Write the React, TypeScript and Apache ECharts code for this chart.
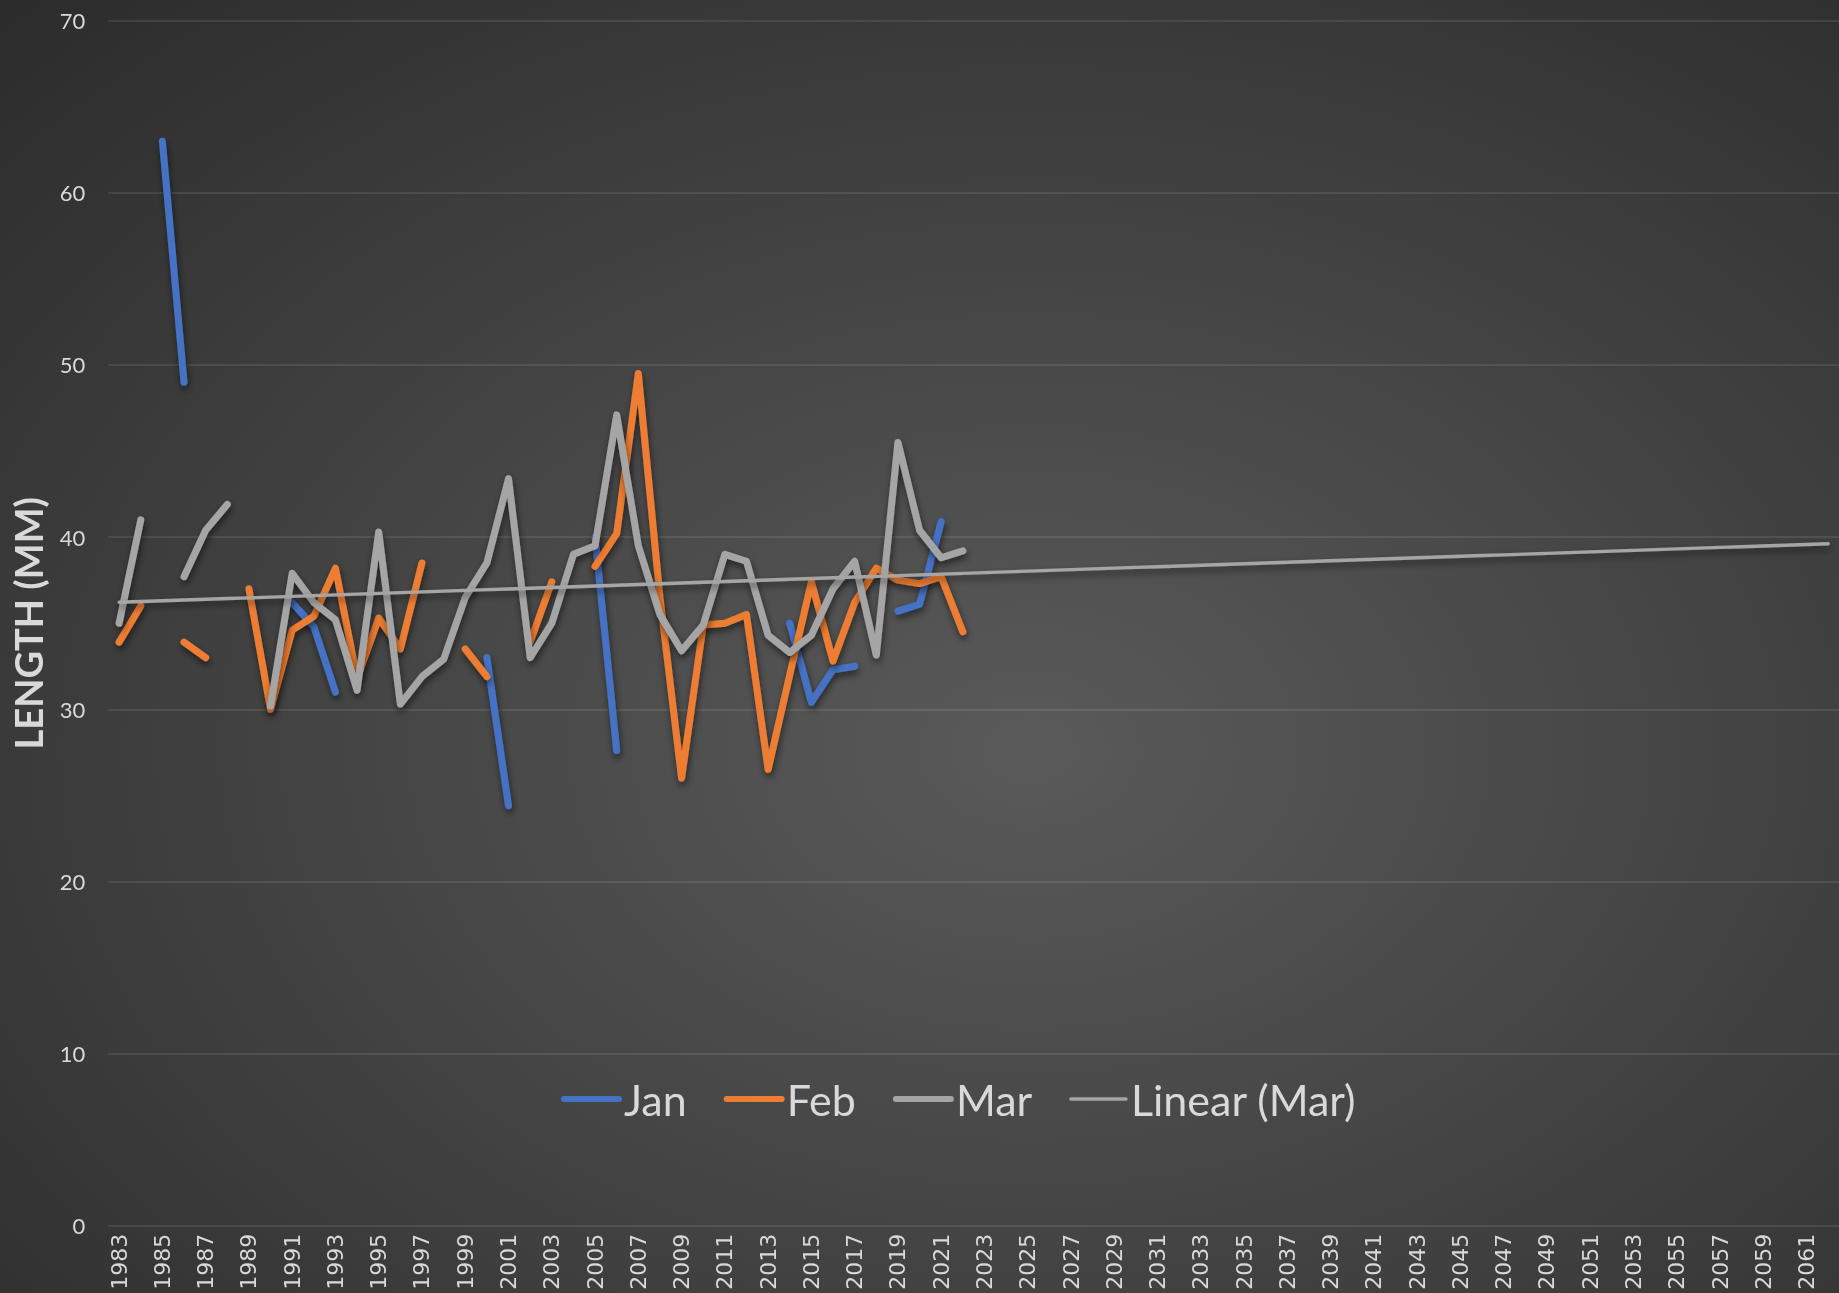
import React, { useEffect, useRef } from 'react';
import * as echarts from 'echarts';

const years = [
  '1983', '1984', '1985', '1986', '1987', '1988', '1989', '1990', '1991', '1992',
  '1993', '1994', '1995', '1996', '1997', '1998', '1999', '2000', '2001', '2002',
  '2003', '2004', '2005', '2006', '2007', '2008', '2009', '2010', '2011', '2012',
  '2013', '2014', '2015', '2016', '2017', '2018', '2019', '2020', '2021', '2022',
  '2023', '2024', '2025', '2026', '2027', '2028', '2029', '2030', '2031', '2032',
  '2033', '2034', '2035', '2036', '2037', '2038', '2039', '2040', '2041', '2042',
  '2043', '2044', '2045', '2046', '2047', '2048', '2049', '2050', '2051', '2052',
  '2053', '2054', '2055', '2056', '2057', '2058', '2059', '2060', '2061', '2062',
];

// 1983 .. 2022
const jan = [
  null, null, 63.0, 49.0, null, null, null, null, 36.2, 34.8,
  31.0, null, null, null, null, null, null, 33.0, 24.4, null,
  null, null, 40.0, 27.6, null, null, null, null, null, null,
  null, 35.0, 30.4, 32.3, 32.5, null, 35.7, 36.1, 40.9, null,
];
const feb = [
  33.9, 36.0, null, 33.9, 33.0, null, 37.0, 30.0, 34.6, 35.4,
  38.2, 31.8, 35.3, 33.5, 38.5, null, 33.5, 31.9, null, 33.9,
  37.4, null, 38.3, 40.2, 49.5, 36.5, 26.0, 34.9, 35.0, 35.5,
  26.5, 32.0, 37.4, 32.8, 36.2, 38.2, 37.5, 37.3, 37.7, 34.5,
];
const mar = [
  35.0, 41.0, null, 37.7, 40.4, 41.9, null, 30.2, 37.9, 36.2,
  35.2, 31.1, 40.3, 30.3, 31.9, 32.9, 36.5, 38.5, 43.4, 33.0,
  35.0, 39.0, 39.5, 47.1, 39.5, 35.5, 33.4, 34.9, 39.0, 38.6,
  34.3, 33.3, 34.3, 37.0, 38.6, 33.15, 45.5, 40.4, 38.8, 39.2,
];

const seriesNames = ['Jan', 'Feb', 'Mar', 'Linear (Mar)'];
const colors = ['#4472C4', '#ED7D31', '#A5A5A5', '#A5A5A5'];
const widths = [7, 7, 7, 3.4];
const legendWidths = [6, 6, 6, 3.5];

function linearTrend(values: (number | null)[], count: number): number[] {
  let n = 0, sx = 0, sy = 0, sxx = 0, sxy = 0;
  values.forEach((v, i) => {
    if (v === null) return;
    const x = i + 1;
    n++; sx += x; sy += v; sxx += x * x; sxy += x * v;
  });
  const b = (n * sxy - sx * sy) / (n * sxx - sx * sx);
  const a = (sy - b * sx) / n;
  const out: number[] = [];
  for (let i = 0; i < count; i++) out.push(+(a + b * (i + 1)).toFixed(3));
  return out;
}

export default function App() {
  const ref = useRef<HTMLDivElement>(null);
  useEffect(() => {
    const chart = echarts.init(ref.current!, null, { renderer: 'svg' });
    const trend = linearTrend(mar, years.length);
    const shadow = {
      shadowColor: 'rgba(0,0,0,0.55)',
      shadowBlur: 7,
      shadowOffsetX: 1,
      shadowOffsetY: 4,
    };
    const datasets = [jan, feb, mar, trend];
    chart.setOption({
      animation: false,
      backgroundColor: new echarts.graphic.RadialGradient(0.56, 0.58, 0.9, [
        { offset: 0, color: '#5a5a5a' },
        { offset: 1, color: '#262626' },
      ]),
      grid: { left: 108.3, top: 20.7, width: 1744.8, height: 1205, containLabel: false },
      legend: {
        left: 556,
        top: 1069,
        itemWidth: 55,
        itemHeight: 14,
        itemGap: 37,
        data: seriesNames.map((name, i) => ({
          name,
          itemStyle: { opacity: 0 },
          lineStyle: {
            width: legendWidths[i],
            cap: 'round',
            color: colors[i],
            shadowBlur: 0,
            shadowOffsetX: 0,
            shadowOffsetY: 0,
          },
        })),
        textStyle: { color: '#d9d9d9', fontSize: 43, fontFamily: 'Lato', lineHeight: 50 },
      },
      xAxis: {
        type: 'category',
        data: years,
        boundaryGap: true,
        axisLine: { show: false },
        axisTick: { show: false },
        splitLine: { show: false },
        axisLabel: {
          interval: 1,
          rotate: 90,
          color: '#d9d9d9',
          fontSize: 22,
          fontFamily: 'DejaVu Sans',
          margin: 8,
        },
      },
      yAxis: {
        type: 'value',
        min: 0,
        max: 70,
        interval: 10,
        axisLine: { show: false },
        axisTick: { show: false },
        axisLabel: { color: '#d9d9d9', fontSize: 22, fontFamily: 'Lato', margin: 23 },
        splitLine: { lineStyle: { color: 'rgba(255,255,255,0.12)', width: 1.5 } },
        name: 'LENGTH (MM)',
        nameLocation: 'middle',
        nameRotate: 90,
        nameGap: 61,
        nameTextStyle: { color: '#d9d9d9', fontSize: 38, fontWeight: 'bold', fontFamily: 'Lato' },
      },
      series: seriesNames.map((name, i) => ({
        name,
        type: 'line',
        data: datasets[i],
        symbol: 'none',
        connectNulls: false,
        itemStyle: { color: colors[i] },
        lineStyle: {
          color: colors[i],
          width: widths[i],
          cap: 'round',
          join: 'round',
          ...shadow,
        },
      })),
    });
    return () => chart.dispose();
  }, []);
  return (
    <div
      ref={ref}
      style={{ position: 'fixed', left: 0, top: 0, width: 1839, height: 1293 }}
    />
  );
}
